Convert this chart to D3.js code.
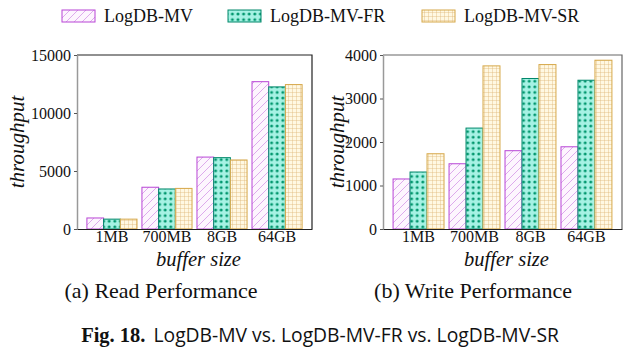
<!DOCTYPE html>
<html><head><meta charset="utf-8">
<script src="https://cdn.jsdelivr.net/npm/d3@7"></script>
<style>body{margin:0;background:#fff}svg{display:block}</style>
</head><body>
<svg id="c" width="640" height="357"></svg>
<script>
const categories = ["1MB", "700MB", "8GB", "64GB"];
const seriesNames = ["LogDB-MV", "LogDB-MV-FR", "LogDB-MV-SR"];
const readMV = [950, 3600, 6200, 12700];
const readFR = [850, 3450, 6150, 12250];
const readSR = [850, 3500, 5950, 12450];
const writeMV = [1150, 1500, 1800, 1890];
const writeFR = [1310, 2320, 3460, 3420];
const writeSR = [1730, 3750, 3780, 3880];
const readTicks = [0, 5000, 10000, 15000];
const writeTicks = [0, 1000, 2000, 3000, 4000];

const svg = d3.select("#c");
const defs = svg.append("defs");
const serif = "'Liberation Serif', 'Times New Roman', serif";

// patterns
const pMV = defs.append("pattern").attr("id", "pMV").attr("patternUnits", "userSpaceOnUse")
  .attr("width", 8).attr("height", 8);
pMV.append("rect").attr("width", 8).attr("height", 8).attr("fill", "#fdf5fe");
pMV.append("path").attr("d", "M-2,10 L10,-2 M-2,2 L2,-2 M6,10 L10,6")
  .attr("stroke", "#d9a2ea").attr("stroke-width", 0.9);

const pFR = defs.append("pattern").attr("id", "pFR").attr("patternUnits", "userSpaceOnUse")
  .attr("width", 5.6).attr("height", 5.6);
pFR.append("rect").attr("width", 5.6).attr("height", 5.6).attr("fill", "#a6f2e4");
pFR.append("circle").attr("cx", 2.8).attr("cy", 2.8).attr("r", 1.5).attr("fill", "#00966c");

const pSR = defs.append("pattern").attr("id", "pSR").attr("patternUnits", "userSpaceOnUse")
  .attr("width", 4).attr("height", 4);
pSR.append("rect").attr("width", 4).attr("height", 4).attr("fill", "#fff8e2");
pSR.append("path").attr("d", "M0,0 L4,0 M0,0 L0,4").attr("stroke", "#e0b878").attr("stroke-width", 0.8);

const fills = ["url(#pMV)", "url(#pFR)", "url(#pSR)"];
const strokes = ["#b845d6", "#00876a", "#d6a84a"];

// legend
const legX = [62, 228, 422];
seriesNames.forEach((n, i) => {
  svg.append("rect").attr("x", legX[i]).attr("y", 10).attr("width", 33).attr("height", 12)
    .attr("fill", fills[i]).attr("stroke", strokes[i]).attr("stroke-width", 1);
  svg.append("text").attr("x", legX[i] + 42).attr("y", 22).text(n)
    .attr("font-family", serif).attr("font-size", 18).attr("fill", "#111");
});

function panel(x0, x1, data, ticks, maxV, titleX, frameColor) {
  const y0 = 229, y1 = 55;
  const x = d3.scaleBand().domain(categories).range([x0, x1]).paddingInner(0.09).paddingOuter(0.18);
  const xs = d3.scaleBand().domain(seriesNames).range([0, x.bandwidth()]);
  const y = d3.scaleLinear().domain([0, maxV]).range([y0, y1]);
  const g = svg.append("g");
  categories.forEach((c, ci) => {
    seriesNames.forEach((s, si) => {
      const v = data[si][ci];
      g.append("rect").attr("x", x(c) + xs(s)).attr("y", y(v))
        .attr("width", xs.bandwidth()).attr("height", y0 - y(v))
        .attr("fill", fills[si]).attr("stroke", strokes[si]).attr("stroke-width", 1);
    });
  });
  // frame
  g.append("path").attr("d", `M${x0},${y1} L${x1},${y1} L${x1},${y0}`)
    .attr("fill", "none").attr("stroke", frameColor).attr("stroke-width", 1.2);
  const ya = g.append("g").attr("transform", `translate(${x0},0)`)
    .call(d3.axisLeft(y).tickValues(ticks).tickSize(3).tickSizeOuter(0).tickFormat(d3.format("d")));
  ya.select(".domain").attr("stroke", "#999").attr("stroke-width", 1.5);
  ya.selectAll(".tick line").attr("stroke", "#555");
  ya.selectAll("text").attr("font-family", serif).attr("font-size", 16).attr("fill", "#111");
  const xa = g.append("g").attr("transform", `translate(0,${y0})`)
    .call(d3.axisBottom(x).tickSize(0).tickPadding(2));
  xa.select(".domain").attr("stroke", "#222").attr("stroke-width", 1.2);
  xa.selectAll("text").attr("font-family", serif).attr("font-size", 16).attr("fill", "#111");
  g.append("text").attr("x", (x0 + x1) / 2 + 4).attr("y", 266).attr("text-anchor", "middle")
    .attr("font-family", serif).attr("font-style", "italic").attr("font-size", 20.5).attr("fill", "#111")
    .text("buffer size");
  g.append("text").attr("transform", `translate(${titleX + 7},${(y0 + y1) / 2}) rotate(-90)`)
    .attr("text-anchor", "middle")
    .attr("font-family", serif).attr("font-style", "italic").attr("font-size", 21).attr("fill", "#111")
    .text("throughput");
}

panel(77, 312, [readMV, readFR, readSR], readTicks, 15000, 17, "#222");
panel(383, 622, [writeMV, writeFR, writeSR], writeTicks, 4000, 337, "#666");

svg.append("text").attr("x", 161).attr("y", 298).attr("text-anchor", "middle")
  .attr("font-family", serif).attr("font-size", 22).attr("fill", "#111").text("(a) Read Performance");
svg.append("text").attr("x", 473).attr("y", 298).attr("text-anchor", "middle")
  .attr("font-family", serif).attr("font-size", 22).attr("fill", "#111").text("(b) Write Performance");

const cap = svg.append("text").attr("x", 320).attr("y", 342).attr("text-anchor", "middle").attr("fill", "#111");
cap.append("tspan").attr("font-family", serif).attr("font-weight", "bold").attr("font-size", 20.5).text("Fig. 18.");
cap.append("tspan").attr("font-family", "'Open Sans', 'Noto Sans', sans-serif").attr("font-size", 19.3)
  .attr("dx", 8).text("LogDB-MV vs. LogDB-MV-FR vs. LogDB-MV-SR");
</script>
</body></html>
